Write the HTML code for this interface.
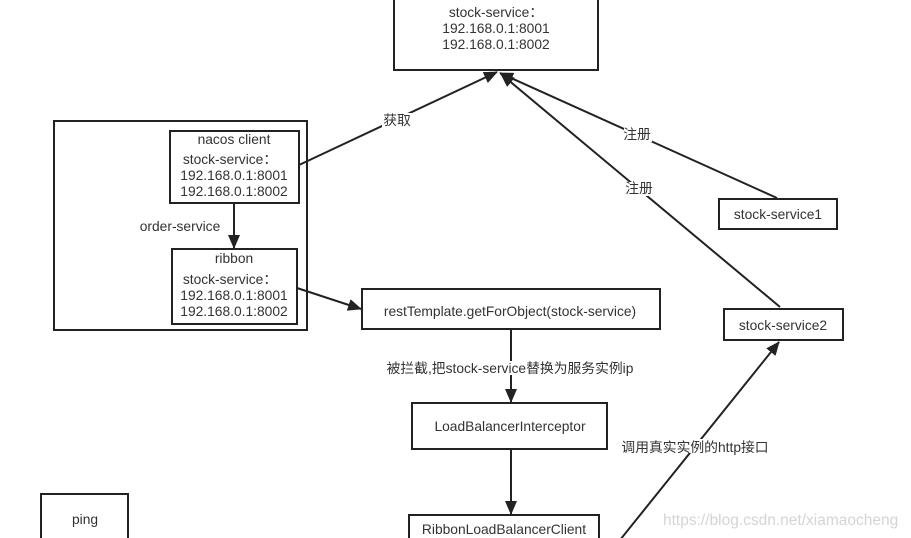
<!DOCTYPE html>
<html><head><meta charset="utf-8"><style>
html,body{margin:0;padding:0;background:#fff;}
svg{display:block;}
text{font-family:"Liberation Sans","Noto Sans CJK SC",sans-serif;font-size:13.8px;fill:#333;}
</style></head><body>
<svg width="911" height="538" viewBox="0 0 911 538" xmlns="http://www.w3.org/2000/svg">
<defs><marker id="b" markerWidth="14" markerHeight="12" refX="13" refY="6" orient="auto" markerUnits="userSpaceOnUse"><path d="M0,0 L14,6 L0,12 Z" fill="#222"/></marker></defs>
<g fill="none" stroke="#222" stroke-width="2">
<rect x="394" y="-5" width="204" height="75"/>
<rect x="54" y="121" width="253" height="209"/>
<rect x="170" y="131" width="129" height="72"/>
<rect x="172" y="249" width="125" height="75"/>
<rect x="362" y="289" width="298" height="40"/>
<rect x="719" y="199" width="118" height="30"/>
<rect x="724" y="309" width="119" height="31"/>
<rect x="412" y="403" width="195" height="46"/>
<rect x="409" y="515" width="190" height="30"/>
<rect x="41" y="494" width="87" height="50"/>
<line x1="234" y1="203" x2="234" y2="248" marker-end="url(#b)"/>
<line x1="297" y1="288" x2="361" y2="309" marker-end="url(#b)"/>
<line x1="299" y1="165" x2="497" y2="72" marker-end="url(#b)"/>
<line x1="777" y1="198" x2="500" y2="73" marker-end="url(#b)"/>
<line x1="780" y1="307" x2="501" y2="74" marker-end="url(#b)"/>
<line x1="511" y1="329" x2="511" y2="402" marker-end="url(#b)"/>
<line x1="511" y1="449" x2="511" y2="514" marker-end="url(#b)"/>
<line x1="620" y1="540" x2="779" y2="342" marker-end="url(#b)"/>
</g>
<g fill="#fff"><rect x="382" y="113" width="30" height="15"/><rect x="624" y="128" width="28" height="14"/><rect x="626" y="182" width="28" height="14"/><rect x="388" y="361" width="244" height="14"/><rect x="622" y="439" width="146" height="14"/></g>
<g text-anchor="middle">
<text x="496" y="17">stock-service：</text>
<text x="496" y="33">192.168.0.1:8001</text>
<text x="496" y="49">192.168.0.1:8002</text>
<text x="234" y="144">nacos client</text>
<text x="230" y="164">stock-service：</text>
<text x="234" y="180">192.168.0.1:8001</text>
<text x="234" y="196">192.168.0.1:8002</text>
<text x="234" y="263">ribbon</text>
<text x="230" y="284">stock-service：</text>
<text x="234" y="300">192.168.0.1:8001</text>
<text x="234" y="316">192.168.0.1:8002</text>
<text x="180" y="231">order-service</text>
<text x="510" y="316">restTemplate.getForObject(stock-service)</text>
<text x="778" y="219">stock-service1</text>
<text x="783" y="330">stock-service2</text>
<text x="510" y="431">LoadBalancerInterceptor</text>
<text x="504" y="534">RibbonLoadBalancerClient</text>
<text x="85" y="524">ping</text>
<text x="397" y="125">获取</text>
<text x="637" y="139">注册</text>
<text x="639" y="193">注册</text>
<text x="510" y="373">被拦截,把stock-service替换为服务实例ip</text>
<text x="695" y="452">调用真实实例的http接口</text>
</g>
<text x="663" y="525" style="fill:#d4d4d4;font-size:15.5px">https://blog.csdn.net/xiamaocheng</text>
</svg>
</body></html>
